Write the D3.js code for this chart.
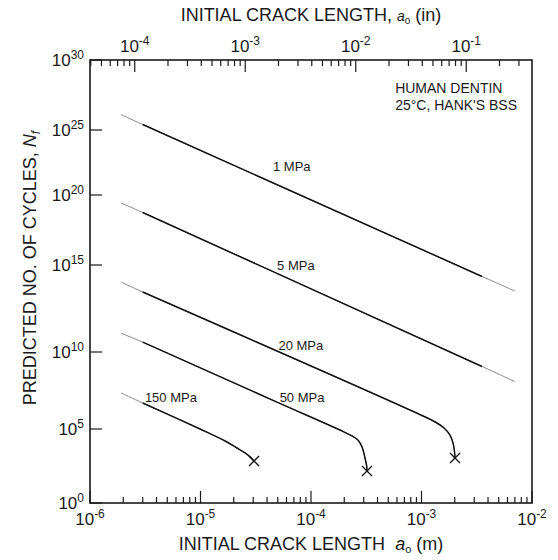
<!DOCTYPE html>
<html>
<head>
<meta charset="utf-8">
<script src="https://cdn.jsdelivr.net/npm/d3@7"></script>
<style>
  body { margin: 0; background: #fff; }
  text { font-family: Arial, "Liberation Sans", Helvetica, sans-serif; fill: #1a1a1a; }
</style>
</head>
<body>
<svg id="chart" width="558" height="560"></svg>
<script>
// Predicted fatigue life (cycles to failure) vs initial crack length, per stress amplitude
const stressLabels = ["1 MPa", "5 MPa", "20 MPa", "50 MPa", "150 MPa"];

const crack1MPa  = [1.91e-6, 3.0e-6, 3.53e-3, 7.0e-3];
const cycles1MPa = [1.26e26, 2.45e25, 2.2e14, 3.2e13];

const crack5MPa  = [1.91e-6, 3.0e-6, 3.53e-3, 7.0e-3];
const cycles5MPa = [2.7e19, 5.6e18, 1.15e9, 1.2e8];

const crack20MPa  = [1.91e-6, 3.0e-6, 1.08e-3, 1.38e-3, 1.60e-3, 1.81e-3, 1.93e-3, 1.99e-3, 2.01e-3];
const cycles20MPa = [1.05e14, 2.8e13, 6.0e5, 2.45e5, 1.15e5, 3.9e4, 1.12e4, 2.8e3, 1.1e3];

const crack50MPa  = [1.91e-6, 3.0e-6, 4.92e-5, 1.83e-4, 2.35e-4, 2.66e-4, 2.90e-4, 3.08e-4, 3.19e-4, 3.21e-4];
const cycles50MPa = [1.2e11, 3.7e10, 5.6e6, 8.5e4, 3.4e4, 1.8e4, 6.0e3, 1.1e3, 320, 145];

const crack150MPa  = [1.91e-6, 3.0e-6, 9.9e-6, 1.67e-5, 2.14e-5, 2.53e-5, 2.81e-5, 3.05e-5];
const cycles150MPa = [2.2e7, 4.9e6, 1.0e5, 1.55e4, 5.2e3, 2.4e3, 1.3e3, 690];

// where each stress label sits, in data coordinates [a (m), N]
const labelCrack  = [6.7e-5, 7.3e-5, 8.1e-5, 8.3e-5, 5.4e-6];
const labelCycles = [7.1e21, 5.2e14, 1.3e10, 5.6e6, 5.6e6];

// crack-length range covered by the computation; outside it the curves are extrapolated
const computedRange = [3.0e-6, 3.53e-3];
// curves that end in failure (marked with a cross)
const failsAtEnd = [false, false, true, true, true];

const xMajorTicks = [1e-6, 1e-5, 1e-4, 1e-3, 1e-2];
const xMajorExp   = ["-6", "-5", "-4", "-3", "-2"];
const inchMajorTicks = [1e-4, 1e-3, 1e-2, 1e-1];
const inchMajorExp   = ["-4", "-3", "-2", "-1"];
const yTicks   = [1, 1e5, 1e10, 1e15, 1e20, 1e25, 1e30];
const yTickExp = ["0", "5", "10", "15", "20", "25", "30"];

const annotation = ["HUMAN DENTIN", "25°C, HANK'S BSS"];

const M_PER_IN = 0.0254;

const series = [
  [crack1MPa, cycles1MPa], [crack5MPa, cycles5MPa], [crack20MPa, cycles20MPa],
  [crack50MPa, cycles50MPa], [crack150MPa, cycles150MPa]
].map(([a, n], i) => ({
  label: stressLabels[i],
  points: a.map((v, j) => ({ a: v, n: n[j] })),
  fails: failsAtEnd[i],
  labelAt: { a: labelCrack[i], n: labelCycles[i] }
}));

const svg = d3.select("#chart");
const plotL = 90, plotR = 532, plotT = 60, plotB = 503;

const x = d3.scaleLog().domain([1e-6, 1e-2]).range([plotL, plotR]);
const xIn = d3.scaleLog().domain([1e-6 / M_PER_IN, 1e-2 / M_PER_IN]).range([plotL, plotR]);
// vertical axis: decade exponent of N, laid out with the printed tick spacing
const yExp = d3.scaleLinear()
  .domain(yTicks.map(Math.log10))
  .range([plotB, 429, 352, 265, 195, 130, plotT]);
const y = v => yExp(Math.log10(v));

const MAJOR = 12, MINOR = 6;
const TICK_FONT = 17, SUP_FONT = 12, TITLE_FONT = 18;

const g = svg.append("g").attr("stroke", "#1a1a1a");
const isDecade = v => Math.abs(Math.log10(v) - Math.round(Math.log10(v))) < 1e-9;

// bottom axis (metres) and top axis (inches), ticks pointing inward
x.ticks().forEach(v => {
  const len = isDecade(v) ? MAJOR : MINOR;
  g.append("line").attr("x1", x(v)).attr("x2", x(v))
    .attr("y1", plotB).attr("y2", plotB - len).attr("stroke-width", 1.2);
});
xIn.ticks().forEach(v => {
  const len = isDecade(v) ? MAJOR : MINOR;
  g.append("line").attr("x1", xIn(v)).attr("x2", xIn(v))
    .attr("y1", plotT).attr("y2", plotT + len).attr("stroke-width", 1.2);
});
yTicks.forEach(v => {
  g.append("line").attr("x1", plotL).attr("x2", plotL + MAJOR)
    .attr("y1", y(v)).attr("y2", y(v)).attr("stroke-width", 1.2);
});

// frame
svg.append("rect").attr("x", plotL).attr("y", plotT)
  .attr("width", plotR - plotL).attr("height", plotB - plotT)
  .attr("fill", "none").attr("stroke", "#1a1a1a").attr("stroke-width", 1.6);

function powerLabel(sel, exp) {
  sel.append("tspan").text("10");
  sel.append("tspan").attr("dy", -7).attr("font-size", SUP_FONT).text(exp);
}

xMajorTicks.forEach((v, i) => {
  svg.append("text").attr("x", x(v)).attr("y", 525).attr("text-anchor", "middle")
    .attr("font-size", TICK_FONT).call(powerLabel, xMajorExp[i]);
});
inchMajorTicks.forEach((v, i) => {
  svg.append("text").attr("x", xIn(v)).attr("y", 52).attr("text-anchor", "middle")
    .attr("font-size", TICK_FONT).call(powerLabel, inchMajorExp[i]);
});
yTicks.forEach((v, i) => {
  svg.append("text").attr("x", 84).attr("y", y(v) + 6).attr("text-anchor", "end")
    .attr("font-size", TICK_FONT).call(powerLabel, yTickExp[i]);
});

// axis titles
const topTitle = svg.append("text").attr("x", 311).attr("y", 21)
  .attr("text-anchor", "middle").attr("font-size", TITLE_FONT);
topTitle.append("tspan").text("INITIAL CRACK LENGTH, ");
topTitle.append("tspan").attr("font-style", "italic").attr("font-size", 14).text("a");
topTitle.append("tspan").attr("font-size", 10).attr("dy", 3).text("o");
topTitle.append("tspan").attr("dy", -3).text(" (in)");

const botTitle = svg.append("text").attr("x", 311).attr("y", 550)
  .attr("text-anchor", "middle").attr("font-size", TITLE_FONT);
botTitle.append("tspan").text("INITIAL CRACK LENGTH\u00a0\u00a0");
botTitle.append("tspan").attr("font-style", "italic").text("a");
botTitle.append("tspan").attr("font-size", 11).attr("dy", 3).text("o");
botTitle.append("tspan").attr("dy", -3).text(" (m)");

const yTitle = svg.append("text")
  .attr("transform", "translate(36,268) rotate(-90)")
  .attr("text-anchor", "middle").attr("font-size", TITLE_FONT);
yTitle.append("tspan").text("PREDICTED NO. OF CYCLES, ");
yTitle.append("tspan").attr("font-style", "italic").text("N");
yTitle.append("tspan").attr("font-style", "italic").attr("font-size", 12).attr("dy", 4).text("f");

// curves: extrapolated parts thin and grey, computed range solid black
const line = d3.line().x(d => x(d.a)).y(d => y(d.n)).curve(d3.curveCatmullRom.alpha(0.5));
const inRange = d => d.a >= computedRange[0] * 0.999 && d.a <= computedRange[1] * 1.001;

series.forEach(s => {
  svg.append("path").attr("d", line(s.points))
    .attr("fill", "none").attr("stroke", "#8a8a8a").attr("stroke-width", 1);
  svg.append("path").attr("d", line(s.points.filter(inRange)))
    .attr("fill", "none").attr("stroke", "#111").attr("stroke-width", 1.5);
  if (s.fails) {
    const end = s.points[s.points.length - 1];
    const cx = x(end.a), cy = y(end.n), r = 5;
    svg.append("path")
      .attr("d", `M${cx - r},${cy - r}L${cx + r},${cy + r}M${cx - r},${cy + r}L${cx + r},${cy - r}`)
      .attr("stroke", "#111").attr("stroke-width", 1.3).attr("fill", "none");
  }
  svg.append("text").attr("x", x(s.labelAt.a)).attr("y", y(s.labelAt.n))
    .attr("text-anchor", "middle").attr("font-size", 13).text(s.label);
});

// material / environment note, left-aligned block whose longest line ends near the frame
const note = svg.append("g").attr("font-size", 14);
const noteLines = annotation.map((t, i) =>
  note.append("text").attr("y", 93 + i * 17).text(t));
const noteWidth = d3.max(noteLines, t => t.node().getComputedTextLength());
noteLines.forEach(t => t.attr("x", plotR - 15 - noteWidth));
</script>
</body>
</html>
